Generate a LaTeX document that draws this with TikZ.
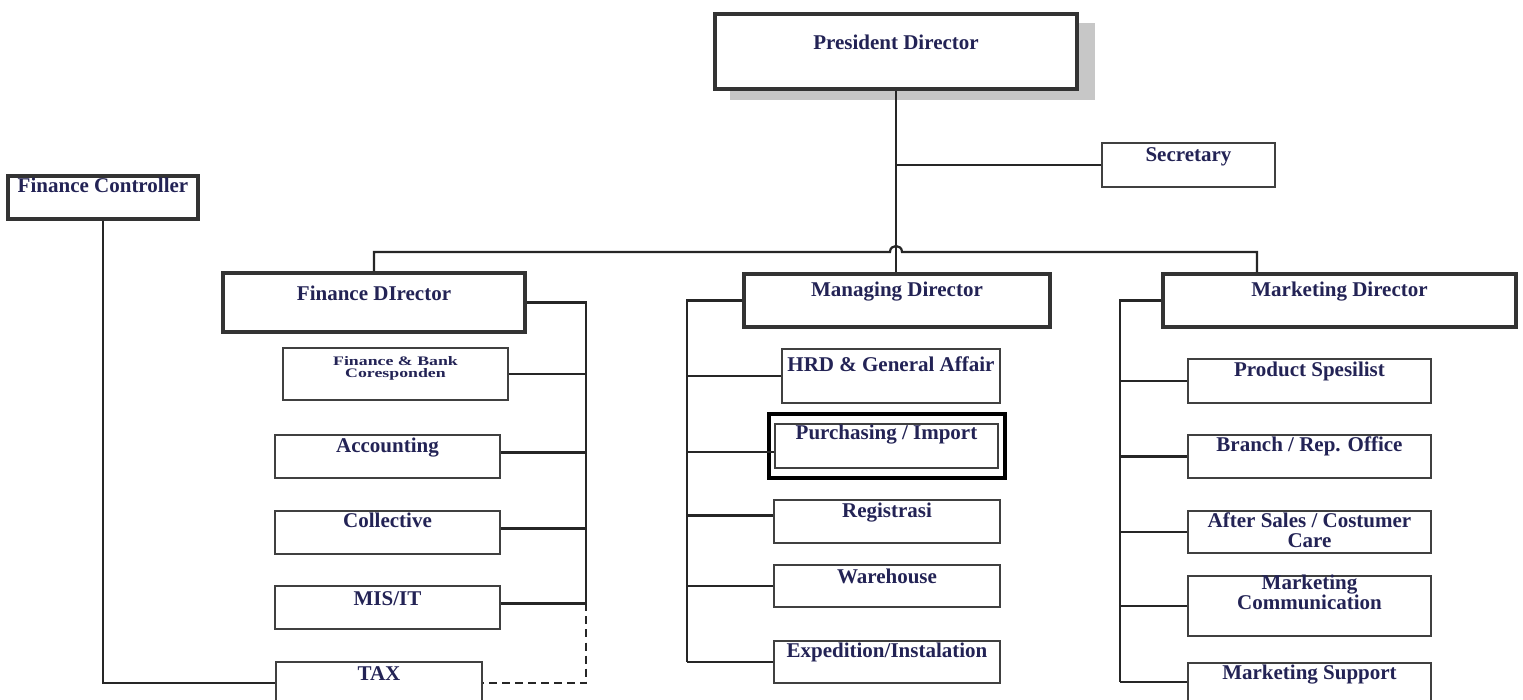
\documentclass[tikz,border=0pt]{standalone}
\usepackage{fontspec}
\setmainfont{Liberation Serif}
\usetikzlibrary{fit}
\definecolor{txtc}{RGB}{35,35,85}
\begin{document}
\begin{tikzpicture}[x=0.5pt,y=-0.5pt,
  box/.style={draw=black!75, line width=1pt, fill=white, inner sep=0pt},
  dbox/.style={box, line width=1.6pt, draw=black!80},
  txt/.style={font=\bfseries\fontsize{10.5}{11}\selectfont, text=txtc, anchor=base, inner sep=0pt},
  conn/.style={draw=black!85, line width=1.1pt}]
\clip (0,0) rectangle (1523,700);
\fill[white] (0,0) rectangle (1523,700);
% shadow of the president box
\fill[black!22] (730,23) rectangle (1095,100);
% boxes
\node[dbox, line width=2pt, fit={(715,14) (1077,89)}] (pd) {};
\node[box, fit={(1102,143) (1275,187)}] (sec) {};
\node[dbox, fit={(8,176) (198,219)}] (fc) {};
\node[dbox, fit={(223,273) (525,332)}] (fd) {};
\node[dbox, fit={(744,274) (1050,327)}] (md) {};
\node[dbox, fit={(1163,274) (1516,327)}] (mkd) {};
\node[box, fit={(283,348) (508,400)}] (fbc) {};
\node[box, fit={(275,435) (500,478)}] (acc) {};
\node[box, fit={(275,511) (500,554)}] (col) {};
\node[box, fit={(275,586) (500,629)}] (mis) {};
\node[box, fit={(276,662) (482,704)}] (tax) {};
\node[box, fit={(782,349) (1000,403)}] (hrd) {};
\node[box, fit={(775,424) (998,468)}] (pur) {};
\node[box, fit={(774,500) (1000,543)}] (reg) {};
\node[box, fit={(774,565) (1000,607)}] (wh) {};
\node[box, fit={(774,641) (1000,683)}] (exp) {};
\node[box, fit={(1188,359) (1431,403)}] (ps) {};
\node[box, fit={(1188,435) (1431,478)}] (br) {};
\node[box, fit={(1188,511) (1431,553)}] (as) {};
\node[box, fit={(1188,576) (1431,636)}] (mc) {};
\node[box, fit={(1188,663) (1431,701)}] (msup) {};
\node[draw=black, line width=2pt, inner sep=0pt, fit={(769,414) (1005,478)}] (hl) {};
% spine and attachment coordinates
\coordinate (bus) at (896,252);
\coordinate (mkin) at (1257,252);
\coordinate (fdsp) at (586,303);
\coordinate (mdsp) at (687,300);
\coordinate (mksp) at (1120,300);
\coordinate (acce) at ([yshift=2pt]acc.east);
\coordinate (cole) at ([yshift=2pt]col.east);
\coordinate (mise) at ([yshift=2pt]mis.east);
\coordinate (purw) at ([yshift=-3pt]pur.west);
\coordinate (regw) at ([yshift=3pt]reg.west);
\coordinate (busl) at ([xshift=-3pt]bus);
\coordinate (busr) at ([xshift=3pt]bus);
\coordinate (busl2) at ([xshift=-3pt,yshift=4pt]bus);
\coordinate (busr2) at ([xshift=3pt,yshift=4pt]bus);
% top connectors
\draw[conn] (pd.south) -- (pd.south |- md.north);
\draw[conn] (sec.west) -- (sec.west -| pd.south);
\draw[conn] (fd.north) -- (fd.north |- bus) -- (busl)
  .. controls (busl2) and (busr2) .. (busr)
  -- (mkin) -- (mkin |- mkd.north);
% finance controller
\draw[conn] (fc.south) -- (fc.south |- tax.west) -- (tax.west);
% finance director
\draw[conn] (fd.east) -- (fd.east -| fdsp) -- (fdsp |- mise);
\draw[conn] (fbc.east) -- (fbc.east -| fdsp);
\draw[conn] (acce) -- (acce -| fdsp);
\draw[conn] (cole) -- (cole -| fdsp);
\draw[conn] (mise) -- (mise -| fdsp);
\draw[conn, dash pattern=on 4pt off 2.5pt] (mise -| fdsp) -- (tax.east -| fdsp) -- (tax.east);
% managing director
\draw[conn] (md.west) -- (md.west -| mdsp) -- (mdsp |- exp.west);
\draw[conn] (hrd.west) -- (hrd.west -| mdsp);
\draw[conn] (purw) -- (purw -| mdsp);
\draw[conn] (regw) -- (regw -| mdsp);
\draw[conn] (wh.west) -- (wh.west -| mdsp);
\draw[conn] (exp.west) -- (exp.west -| mdsp);
% marketing director
\draw[conn] (mkd.west) -- (mkd.west -| mksp) -- (mksp |- msup.west);
\draw[conn] (ps.west) -- (ps.west -| mksp);
\draw[conn] (br.west) -- (br.west -| mksp);
\draw[conn] (as.west) -- (as.west -| mksp);
\draw[conn] (mc.west) -- (mc.west -| mksp);
\draw[conn] (msup.west) -- (msup.west -| mksp);
% texts
\node[txt] (tpd) at (896,50) {President Director};
\node[txt] (tsec) at (1188.5,162) {Secretary};
\node[txt] (tfc) at (103,193) {Finance Controller};
\node[txt] (tfd) at (374,301) {Finance DIrector};
\node[txt] (tmd) at (897,297) {Managing Director};
\node[txt] (tmkd) at (1339.5,297) {Marketing Director};
\node[txt, anchor=north, align=center, font=\bfseries\fontsize{6.5}{6}\selectfont] (tfbc) at (395.5,356)
  {\scalebox{1.37}[1]{Finance \& Bank}\\\scalebox{1.37}[1]{Coresponden}};
\node[txt] (tacc) at (387.5,453) {Accounting};
\node[txt] (tcol) at (387.5,528) {Collective};
\node[txt] (tmis) at (387.5,605) {MIS/IT};
\node[txt] (ttax) at (379,680) {TAX};
\node[txt] (thrd) at (891,372) {HRD \& General Affair};
\node[txt] (tpur) at (886.5,440) {Purchasing / Import};
\node[txt] (treg) at (887,517) {Registrasi};
\node[txt] (twh) at (887,583) {Warehouse};
\node[txt] (texp) at (887,657) {Expedition/Instalation};
\node[txt] (tps) at (1309.5,377) {Product Spesilist};
\node[txt] (tbr) at (1309.5,452) {Branch / Rep. Office};
\node[txt] (tas1) at (1309.5,528) {After Sales / Costumer};
\node[txt] (tas2) at (1309.5,547) {Care};
\node[txt] (tmc1) at (1309.5,589) {Marketing};
\node[txt] (tmc2) at (1309.5,610) {Communication};
\node[txt] (tms) at (1309.5,679) {Marketing Support};
\end{tikzpicture}
\end{document}
